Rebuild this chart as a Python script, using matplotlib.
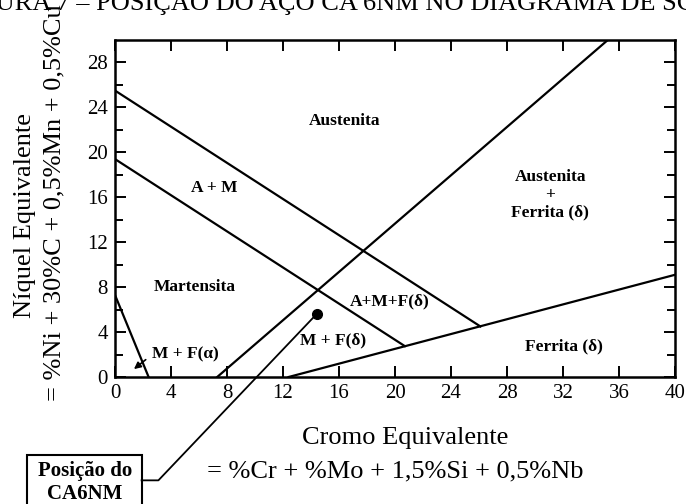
import numpy as np
import matplotlib.pyplot as plt
from matplotlib.patches import Rectangle

plt.rcParams['font.family'] = ['Liberation Serif', 'DejaVu Serif']

# Linhas do diagrama de Schaeffler (Cr eq, Ni eq)
austenita_x = [0, 26.1]
austenita_y = [25.5, 4.5]
am_x = [0, 20.7]
am_y = [19.4, 2.75]
mf_x = [7.3, 35.2]
mf_y = [0, 30]
ferrita_x = [12.4, 40]
ferrita_y = [0, 9.1]
alfa_x = [0, 2.4]
alfa_y = [7.3, 0]

# Posição do aço CA6NM
ca6nm_x = 14.4
ca6nm_y = 5.6

# Rótulos das regiões: (texto, x, y)
regioes = [
    ("Austenita", 16.4, 22.8),
    ("A + M", 7.1, 16.8),
    ("Austenita\n+\nFerrita (δ)", 31.1, 16.2),
    ("Martensita", 5.7, 8.0),
    ("A+M+F(δ)", 19.6, 6.7),
    ("M + F(δ)", 15.6, 3.3),
    ("M + F(α)", 5.0, 2.0),
    ("Ferrita (δ)", 32.1, 2.7),
]

W, H = 686, 504
fig = plt.figure(figsize=(W / 100, H / 100), dpi=100)
ax = fig.add_axes([115 / W, 1 - 377 / H, 560 / W, 337 / H])

for xs, ys in [(austenita_x, austenita_y), (am_x, am_y), (mf_x, mf_y),
               (ferrita_x, ferrita_y), (alfa_x, alfa_y)]:
    ax.plot(xs, ys, color='black', lw=1.6)

ax.plot(ca6nm_x, ca6nm_y, 'o', color='black', ms=7)

for txt, x, y in regioes:
    ax.text(x, y, txt, ha='center', va='center', fontsize=12.5,
            fontweight='bold', linespacing=1.15)

# seta do M + F(alfa)
ax.annotate("", xy=(1.2, 0.55), xytext=(2.35, 1.7),
            arrowprops=dict(arrowstyle='-|>', color='black', lw=1.2,
                            mutation_scale=10))

ax.set_xlim(0, 40)
ax.set_ylim(0, 30)
ax.set_xticks(np.arange(0, 41, 4))
ax.set_yticks(np.arange(0, 29, 4))
ax.set_yticks(np.arange(2, 30, 4), minor=True)
ax.tick_params(which='both', direction='in', top=True, right=True,
               labelsize=15, width=1.4, pad=5)
ax.tick_params(which='major', length=8)
ax.tick_params(which='minor', length=6)
for s in ax.spines.values():
    s.set_linewidth(1.8)

# linha de chamada até a caixa
ax.plot([ca6nm_x, 3.1, 1.9], [ca6nm_y, -9.2, -9.2], color='black', lw=1.3,
        clip_on=False)
fig.patches.append(Rectangle((27 / W, 1 - 530 / H), 115 / W, 75 / H,
                             transform=fig.transFigure, fill=False,
                             edgecolor='black', lw=1.5))
fig.text(85 / W, 1 - 471 / H, "Posição do", ha='center', va='center',
         fontsize=15, fontweight='bold')
fig.text(85 / W, 1 - 494 / H, "CA6NM", ha='center', va='center',
         fontsize=15, fontweight='bold')

# rótulos dos eixos
fig.text(405 / W, 1 - 438 / H, "Cromo Equivalente", ha='center',
         va='center', fontsize=19)
fig.text(395 / W, 1 - 471 / H, "= %Cr + %Mo + 1,5%Si + 0,5%Nb",
         ha='center', va='center', fontsize=19)
fig.text(25 / W, 1 - 215 / H, "Níquel Equivalente", ha='center',
         va='center', rotation=90, fontsize=19)
fig.text(54 / W, 1 - 203 / H, "= %Ni + 30%C + 0,5%Mn + 0,5%Cu",
         ha='center', va='center', rotation=90, fontsize=19)

# título cortado no topo
titulo = "FIGURA 7 – POSIÇÃO DO AÇO CA 6NM NO DIAGRAMA DE SCHAEFFLER"
tmp = fig.text(0, 0, "FIG", fontsize=19)
fig.canvas.draw()
w_fig = tmp.get_window_extent().width
tmp.remove()
fig.text(-(w_fig + 4) / W, 1 - 10 / H, titulo, ha='left', va='baseline',
         fontsize=19)

fig.savefig("out.png", dpi=100)
